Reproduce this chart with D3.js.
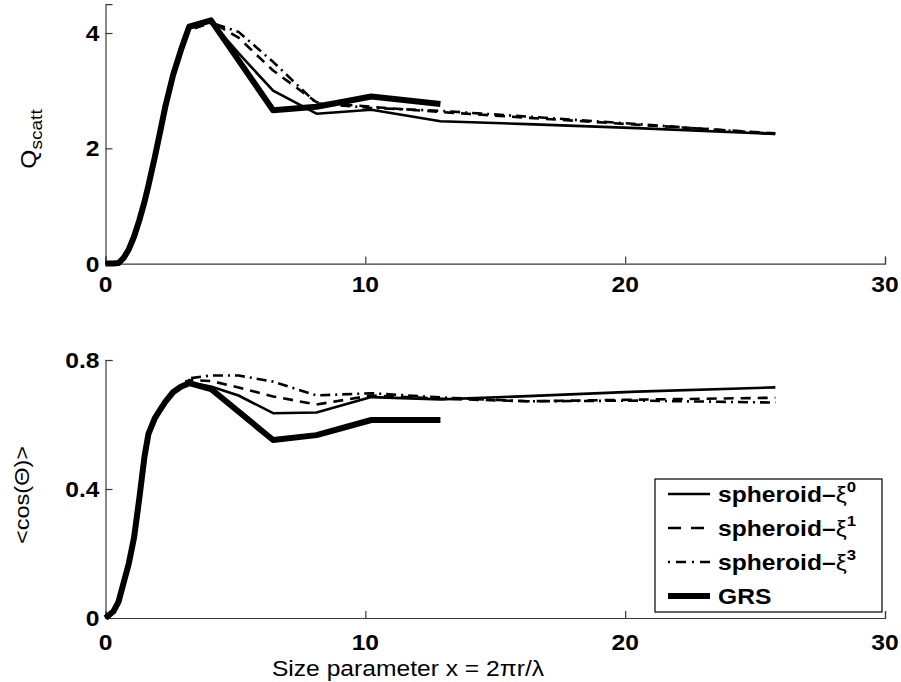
<!DOCTYPE html>
<html>
<head>
<meta charset="utf-8">
<script src="https://cdn.jsdelivr.net/npm/d3@7"></script>
<style>
  html, body { margin: 0; padding: 0; background: #fff; }
  svg { display: block; }
</style>
</head>
<body>
<div id="chart"></div>
<script>
// ---------------- data ----------------
const xSmall = [0, 0.3, 0.5, 0.7, 0.9, 1.1, 1.3, 1.5, 1.65, 1.9, 2.1, 2.3, 2.6, 2.9];
const xGrid  = [3.22, 4.06, 5.12, 6.45, 8.12, 10.23, 12.89, 16.24, 20.46, 25.78];
const xGRS   = [3.22, 4.06, 6.45, 8.12, 10.23, 12.89];

// Q_scatt (top panel)
const qSmall = [0, 0, 0.01, 0.1, 0.25, 0.47, 0.75, 1.07, 1.35, 1.85, 2.28, 2.72, 3.27, 3.7];
const qXi0   = [4.08, 4.20, 3.65, 3.00, 2.60, 2.67, 2.47, 2.42, 2.35, 2.25];
const qXi1   = [4.08, 4.20, 3.92, 3.35, 2.80, 2.72, 2.63, 2.53, 2.41, 2.26];
const qXi3   = [4.05, 4.18, 4.02, 3.50, 2.78, 2.70, 2.65, 2.55, 2.42, 2.25];
const qGRS   = [4.11, 4.22, 2.66, 2.72, 2.90, 2.77];

// <cos(Θ)> (bottom panel)
const gSmall = [0, 0.02, 0.05, 0.11, 0.17, 0.25, 0.37, 0.50, 0.57, 0.62, 0.645, 0.67, 0.70, 0.717];
const gXi0   = [0.730, 0.718, 0.690, 0.635, 0.637, 0.685, 0.678, 0.688, 0.702, 0.715];
const gXi1   = [0.738, 0.735, 0.715, 0.687, 0.662, 0.690, 0.680, 0.672, 0.677, 0.683];
const gXi3   = [0.743, 0.752, 0.752, 0.733, 0.690, 0.697, 0.684, 0.672, 0.674, 0.668];
const gGRS   = [0.728, 0.710, 0.552, 0.567, 0.614, 0.614];

const xTicks = [0, 10, 20, 30];
const qTicks = [0, 2, 4];
const gTicks = [0, 0.4, 0.8];
const gTickLabels = ["0", "0.4", "0.8"];

const legendNames = ["spheroid\u2013", "spheroid\u2013", "spheroid\u2013", "GRS"];
const legendSup = ["0", "1", "3", null];

// ---------------- setup ----------------
const W = 901, H = 682;
const SX = 1.12; // horizontal stretch of glyphs
const FONT = "'Liberation Sans', Arial, Helvetica, sans-serif";

const styles = [
  { w: 2.6, dash: null,       legDash: null },
  { w: 2.6, dash: "10,7",     legDash: "13,10" },
  { w: 2.6, dash: "10,5,2,5", legDash: "2,6,10,6" },
  { w: 6,   dash: null,       legDash: null }
];

const svg = d3.select("#chart").append("svg")
  .attr("width", W).attr("height", H)
  .style("font-family", FONT);

const x = d3.scaleLinear().domain([0, 30]).range([105.5, 885]);
const yQ = d3.scaleLinear().domain([0, 4.5]).range([263.6, 4.2]);
const yG = d3.scaleLinear().domain([0, 0.8]).range([618, 360]);

function zip(xa, ya) { return xa.map((v, i) => [v, ya[i]]); }

function drawPanel(y, yTicks, yLabels, series, xLabOff) {
  const g = svg.append("g");
  const x0 = x.range()[0];
  const y0 = y.range()[0];

  const ax = g.append("g").attr("transform", `translate(0,${y0})`)
    .call(d3.axisBottom(x).tickValues(xTicks).tickSize(-7).tickFormat(""));
  const ay = g.append("g").attr("transform", `translate(${x0},0)`)
    .call(d3.axisLeft(y).tickValues(yTicks).tickSize(-7).tickFormat(""));
  [ax, ay].forEach(a => {
    a.select(".domain").attr("stroke", "#3a3a3a").attr("stroke-width", 1.2);
    a.selectAll(".tick line").attr("stroke", "#3a3a3a").attr("stroke-width", 1.2);
  });

  g.selectAll("text.xt").data(xTicks).join("text")
    .attr("class", "xt")
    .attr("transform", d => `translate(${x(d)},${y0 + xLabOff}) scale(${SX},1)`)
    .attr("text-anchor", "middle")
    .style("font-size", "22px").style("font-weight", "bold")
    .text(d => d);
  g.selectAll("text.yt").data(yTicks).join("text")
    .attr("class", "yt")
    .attr("transform", d => `translate(${x0 - 6},${y(d)}) scale(${SX},1)`)
    .attr("text-anchor", "end").attr("dy", "0.36em")
    .style("font-size", "22px").style("font-weight", "bold")
    .text((d, i) => yLabels[i]);

  const line = d3.line().x(d => x(d[0])).y(d => y(d[1]));
  series.forEach((s, i) => {
    g.append("path").datum(s)
      .attr("d", line)
      .attr("fill", "none")
      .attr("stroke", "#000")
      .attr("stroke-width", styles[i].w)
      .attr("stroke-dasharray", styles[i].dash)
      .attr("stroke-linejoin", "round");
  });
}

drawPanel(yQ, qTicks, qTicks.map(String), [
  zip(xSmall.concat(xGrid), qSmall.concat(qXi0)),
  zip(xSmall.concat(xGrid), qSmall.concat(qXi1)),
  zip(xSmall.concat(xGrid), qSmall.concat(qXi3)),
  zip(xSmall.concat(xGRS), qSmall.concat(qGRS))
], 28);

drawPanel(yG, gTicks, gTickLabels, [
  zip(xSmall.concat(xGrid), gSmall.concat(gXi0)),
  zip(xSmall.concat(xGrid), gSmall.concat(gXi1)),
  zip(xSmall.concat(xGrid), gSmall.concat(gXi3)),
  zip(xSmall.concat(xGRS), gSmall.concat(gGRS))
], 32);

// axis labels
const ql = svg.append("text")
  .attr("transform", `translate(36,139) rotate(-90) scale(${SX},1)`)
  .attr("text-anchor", "middle")
  .style("font-size", "22px");
ql.append("tspan").text("Q");
ql.append("tspan").attr("dy", 6).style("font-size", "17px").text("scatt");

svg.append("text")
  .attr("transform", `translate(29,495) rotate(-90) scale(${SX},1)`)
  .attr("text-anchor", "middle")
  .style("font-size", "21px")
  .text("<cos(\u0398)>");

svg.append("text")
  .attr("transform", `translate(408,676) scale(${SX},1)`)
  .attr("text-anchor", "middle")
  .style("font-size", "22px")
  .text("Size parameter x = 2\u03c0r/\u03bb");

// legend
const lg = svg.append("g");
lg.append("rect").attr("x", 655).attr("y", 479).attr("width", 227).attr("height", 133)
  .attr("fill", "#fff").attr("stroke", "#000").attr("stroke-width", 1.2);
const rowY = [494, 528, 562, 596];
legendNames.forEach((name, i) => {
  lg.append("line")
    .attr("x1", 668).attr("x2", 710).attr("y1", rowY[i]).attr("y2", rowY[i])
    .attr("stroke", "#000").attr("stroke-width", styles[i].w)
    .attr("stroke-dasharray", styles[i].legDash);
  const t = lg.append("text")
    .attr("transform", `translate(718,${rowY[i] + 8}) scale(${SX},1)`)
    .style("font-size", "22px").style("font-weight", "bold");
  t.append("tspan").text(name);
  if (legendSup[i] !== null) {
    t.append("tspan").style("font-weight", "normal").text("\u03be");
    t.append("tspan").attr("dy", -10).style("font-size", "15px").text(legendSup[i]);
  }
});
</script>
</body>
</html>
